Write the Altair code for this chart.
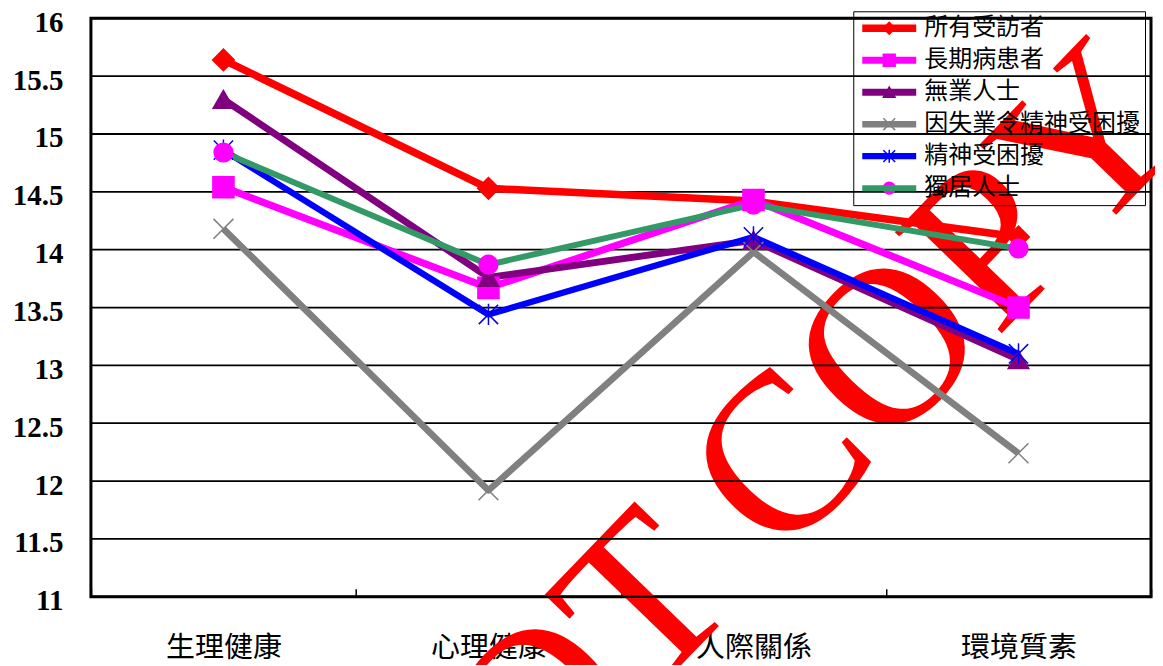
import altair as alt
import pandas as pd

# ---- data ----
categories = ["生理健康", "心理健康", "人際關係", "環境質素"]
series = ["所有受訪者", "長期病患者", "無業人士", "因失業令精神受困擾", "精神受困擾", "獨居人士"]
v_all = [15.64, 14.53, 14.42, 14.11]
v_chronic = [14.54, 13.67, 14.43, 13.50]
v_unemployed = [15.30, 13.76, 14.08, 13.05]
v_unemp_distress = [14.18, 11.92, 13.98, 12.24]
v_distress = [14.86, 13.44, 14.11, 13.10]
v_alone = [14.84, 13.87, 14.39, 14.01]
y_ticks = [11, 11.5, 12, 12.5, 13, 13.5, 14, 14.5, 15, 15.5, 16]
watermark = ["DO NOT COPY"]

# ---- styles ----
line_colors = ["#FF0000", "#FF00FF", "#800080", "#808080", "#0000FF", "#339966"]
line_widths = [7.5, 6, 6.5, 4.5, 6, 4.5]
marker_shapes = ["diamond", "square", "triangle-up",
                 "M-1,-1L1,1M-1,1L1,-1",
                 "M-1,-1L1,1M-1,1L1,-1M0,-1.1L0,1.1",
                 "circle"]
marker_fills = ["#FF0000", "#FF00FF", "#800080", "transparent", "transparent", "#FF00FF"]
marker_strokes = ["#FF0000", "#FF00FF", "#800080", "#808080", "#0000FF", "#FF00FF"]
marker_sizes = [470, 350, 390, 300, 400, 350]

all_vals = [v_all, v_chronic, v_unemployed, v_unemp_distress, v_distress, v_alone]
rows = []
for s, vals in zip(series, all_vals):
    for i, (c, v) in enumerate(zip(categories, vals)):
        rows.append({"category": c, "ci": i, "series": s, "marker": s, "value": v})
df = pd.DataFrame(rows)
legend_df = pd.DataFrame({"marker": series})

x_enc = alt.X("category:N", sort=categories,
              scale=alt.Scale(paddingInner=0, paddingOuter=0),
              axis=alt.Axis(title=None, domain=False, grid=False, tickBand="extent",
                            ticks=True, tickSize=8, tickColor="black", tickWidth=1.5,
                            offset=-8, labelAngle=0, labelFont="Noto Sans CJK TC",
                            labelFontSize=29, labelColor="black", labelBaseline="middle",
                            labelPadding=51))
y_scale = alt.Scale(domain=[11, 16], nice=False, zero=False)
y_axis = alt.Axis(title=None, orient="left", values=y_ticks, format=".1~f", domain=False,
                  ticks=False, grid=False, labelFont="Liberation Serif",
                  labelFontWeight="bold", labelFontSize=29, labelColor="black",
                  labelPadding=28, labelOffset=4)

shape_enc = alt.Shape("marker:N", sort=series, scale=alt.Scale(range=marker_shapes), legend=None)
fill_enc = alt.Fill("marker:N", sort=series, scale=alt.Scale(range=marker_fills), legend=None)
stroke_enc = alt.Stroke("marker:N", sort=series, scale=alt.Scale(range=marker_strokes), legend=None)

wm = alt.Chart(pd.DataFrame({"wm": watermark})).mark_text(
    font="Liberation Serif", fontSize=225, color="#FF0000", angle=314,
    align="right", baseline="alphabetic"
).encode(text="wm:N", x=alt.value(1106), y=alt.value(114))

grid = alt.Chart(pd.DataFrame({"value": y_ticks})).mark_rule(
    color="black", strokeWidth=1.8
).encode(y=alt.Y("value:Q", scale=y_scale, axis=None))

legA = alt.Legend(title=None, orient="none", legendX=763, legendY=-7, direction="vertical",
                  symbolType="stroke", symbolSize=2916, symbolStrokeWidth=6.5,
                  clipHeight=24, rowPadding=8, padding=5, strokeColor="black",
                  labelFont="Noto Sans CJK TC", labelFontSize=24, labelColor="black",
                  labelOffset=4, labelLimit=0)

lines = alt.Chart(df).mark_line(strokeJoin="round").encode(
    x=x_enc,
    y=alt.Y("value:Q", scale=y_scale, axis=y_axis),
    color=alt.Color("series:N", scale=alt.Scale(domain=series, range=line_colors), legend=legA),
    strokeWidth=alt.StrokeWidth("series:O", scale=alt.Scale(domain=series, range=line_widths), legend=None),
    order=alt.Order("ci:Q"),
)

points = alt.Chart(df).mark_point(filled=True, strokeWidth=1.5, opacity=1).encode(
    x=x_enc,
    y=alt.Y("value:Q", scale=y_scale, axis=None),
    shape=shape_enc, fill=fill_enc, stroke=stroke_enc,
    size=alt.Size("marker:O", sort=series, scale=alt.Scale(range=marker_sizes), legend=None),
)

# markers drawn over the legend's line samples, one row per series
legend_markers = alt.Chart(legend_df).mark_point(filled=True, strokeWidth=1.5, opacity=1, size=140).encode(
    x=alt.value(799),
    y=alt.Y("marker:N", sort=series, axis=None,
            scale=alt.Scale(type="point", domain=series, range=[10, 170], padding=0)),
    shape=shape_enc, fill=fill_enc, stroke=stroke_enc,
)

chart = alt.layer(wm, grid, lines, points, legend_markers).resolve_scale(
    y="independent"
).properties(
    width=1061, height=579,
    autosize=alt.AutoSizeParams(type="none"),
    padding={"left": 83, "top": 10, "right": 4, "bottom": 68},
    background="white",
).configure_view(stroke="black", strokeWidth=3)

chart.save("out.html", embed_options={"renderer": "svg", "actions": False})
